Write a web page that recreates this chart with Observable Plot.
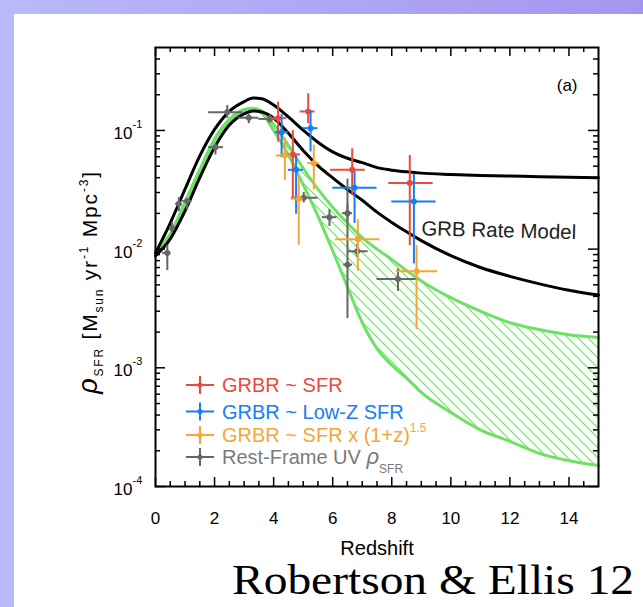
<!DOCTYPE html>
<html>
<head>
<meta charset="utf-8">
<script src="https://cdn.jsdelivr.net/npm/d3@7"></script>
<script src="https://cdn.jsdelivr.net/npm/@observablehq/plot@0.6"></script>
<style>
html,body{margin:0;padding:0;}
body{width:643px;height:607px;overflow:hidden;background:linear-gradient(to right,#b9b9fb,#a595f0);position:relative;font-family:"Liberation Sans",Arial,sans-serif;}
#panel{position:absolute;left:14px;top:14px;width:629px;height:593px;background:#fff;overflow:hidden;}
#chart{position:absolute;left:0;top:0;}
#caption{position:absolute;left:218px;top:545px;font-family:"Liberation Serif","Times New Roman",serif;font-size:42px;line-height:1;transform:scaleX(1.13);transform-origin:left top;white-space:nowrap;color:#000;}
</style>
</head>
<body>
<div id="panel"><div id="chart"></div><div id="caption">Robertson &amp; Ellis 12</div></div>
<script>
// ---- model curves (redshift grid and values) ----
const zGrid   = [0, 0.5, 1, 1.5, 2, 2.5, 3, 3.3, 3.6, 4, 4.5, 5, 5.5, 6, 6.5, 7, 7.5, 8, 8.5, 9, 10, 11, 12, 13, 14, 15];
const grbUpper = [0.0093, 0.0166, 0.032, 0.0610, 0.102, 0.145, 0.175, 0.188, 0.185, 0.164, 0.130, 0.1005, 0.0796, 0.066, 0.0583, 0.0535, 0.0486, 0.0463, 0.0448, 0.0437, 0.0426, 0.0418, 0.0413, 0.0408, 0.0404, 0.0400];
const grbLower = [0.0088, 0.0122, 0.0210, 0.0400, 0.0720, 0.111, 0.138, 0.146, 0.143, 0.127, 0.0946, 0.0678, 0.0506, 0.0398, 0.0318, 0.0258, 0.0205, 0.0168, 0.0140, 0.0118, 0.0088, 0.0070, 0.0059, 0.0051, 0.0045, 0.0041];
const uvUpper  = [0.0097, 0.0135, 0.0250, 0.047, 0.085, 0.124, 0.150, 0.154, 0.146, 0.112, 0.075, 0.048, 0.032, 0.0225, 0.0165, 0.0125, 0.0100, 0.0082, 0.0066, 0.0054, 0.0039, 0.0030, 0.0024, 0.0021, 0.0019, 0.0018];
const uvLower  = [0.0095, 0.0130, 0.0240, 0.045, 0.082, 0.120, 0.146, 0.150, 0.140, 0.100, 0.062, 0.035, 0.019, 0.0097, 0.0048, 0.0024, 0.00145, 0.00105, 0.00082, 0.00062, 0.00042, 0.00030, 0.00024, 0.00019, 0.000165, 0.00015];

// ---- data points: [z, rho, rhoLo, rhoHi, zLo, zHi] ----
const uvPts = [
  [0.40, 0.0093, 0.0066, 0.0108, 0.24, 0.52],
  [0.56, 0.0151, 0.0136, 0.0168, 0.50, 0.62],
  [0.79, 0.0241, 0.0207, 0.0272, 0.68, 0.90],
  [1.07, 0.0254, 0.0213, 0.0265, 0.92, 1.24],
  [2.03, 0.0723, 0.0620, 0.0775, 1.80, 2.30],
  [2.43, 0.1426, 0.126, 0.162, 1.80, 2.95],
  [3.16, 0.128, 0.114, 0.136, 2.80, 3.50],
  [3.87, 0.125, 0.115, 0.135, 3.50, 4.10],
  [5.02, 0.0271, 0.0245, 0.0300, 4.60, 5.50],
  [5.89, 0.0186, 0.0155, 0.0215, 5.65, 6.15],
  [6.50, 0.0201, 0.0170, 0.0240, 6.33, 6.67],
  [6.50, 0.0074, 0.0026, 0.0390, 6.37, 6.67],
  [6.83, 0.0096, 0.0085, 0.0110, 6.50, 7.20],
  [8.21, 0.0056, 0.0044, 0.0068, 7.50, 8.90]
];
const sfrPts = [
  [4.15, 0.127, 0.080, 0.173, 3.90, 4.45],
  [4.65, 0.0628, 0.0267, 0.100, 4.46, 4.91],
  [5.17, 0.1445, 0.114, 0.204, 4.90, 5.40],
  [6.66, 0.0466, 0.0283, 0.070, 5.93, 7.10],
  [8.61, 0.036, 0.0107, 0.0615, 7.90, 9.40]
];
const lowzPts = [
  [4.27, 0.0968, 0.059, 0.136, 4.05, 4.50],
  [4.76, 0.0466, 0.0197, 0.061, 4.50, 5.00],
  [5.25, 0.1045, 0.066, 0.147, 5.00, 5.50],
  [6.74, 0.0329, 0.0165, 0.045, 6.00, 7.50],
  [8.75, 0.0252, 0.0075, 0.043, 8.00, 9.50]
];
const evolPts = [
  [4.38, 0.0615, 0.038, 0.086, 4.10, 4.60],
  [4.85, 0.0266, 0.0108, 0.0407, 4.60, 5.00],
  [5.36, 0.053, 0.0315, 0.075, 5.15, 5.55],
  [6.85, 0.0121, 0.0065, 0.0177, 6.10, 7.60],
  [8.84, 0.0065, 0.0021, 0.0107, 8.15, 9.55]
];

// ---- ticks ----
const xMajor = [0, 2, 4, 6, 8, 10, 12, 14];
const xMinor = [0.5, 1, 1.5, 2.5, 3, 3.5, 4.5, 5, 5.5, 6.5, 7, 7.5, 8.5, 9, 9.5, 10.5, 11, 11.5, 12.5, 13, 13.5, 14.5];
const yMajor = [1e-4, 1e-3, 1e-2, 1e-1];
const yMinor = [2e-4,3e-4,4e-4,5e-4,6e-4,7e-4,8e-4,9e-4, 2e-3,3e-3,4e-3,5e-3,6e-3,7e-3,8e-3,9e-3, 2e-2,3e-2,4e-2,5e-2,6e-2,7e-2,8e-2,9e-2, 0.2,0.3,0.4];

const GREEN = "#6fe066", RED = "#ea4a3c", BLUE = "#1a7cf2", ORANGE = "#f6a635", GRAY = "#666666";

const curves = zGrid.map((z, i) => ({z, b1: grbUpper[i], b2: grbLower[i], g1: uvUpper[i], g2: uvLower[i]}));
const toRows = a => a.map(([z, v, lo, hi, zlo, zhi]) => ({z, v, lo, hi, zlo, zhi}));

function errMarks(pts, color) {
  const d = toRows(pts);
  return [
    Plot.ruleY(d, {y: "v", x1: "zlo", x2: "zhi", stroke: color, strokeWidth: 2}),
    Plot.ruleX(d, {x: "z", y1: "lo", y2: "hi", stroke: color, strokeWidth: 2}),
    Plot.dot(d, {x: "z", y: "v", r: 3, fill: color})
  ];
}

const FH = 439, FW = 443;
const chart = Plot.plot({
  width: 629, height: 550,
  marginLeft: 141, marginRight: 45, marginTop: 33, marginBottom: 78,
  style: {background: "transparent", fontFamily: "'Liberation Sans', Arial, sans-serif", overflow: "visible"},
  x: {domain: [0, 15], axis: null},
  y: {type: "log", domain: [1e-4, 0.5], axis: null},
  marks: [
    Plot.areaY(curves, {x: "z", y1: "g2", y2: "g1", fill: "url(#hatch)", curve: "monotone-x"}),
    Plot.lineY(curves, {x: "z", y: "g1", stroke: GREEN, strokeWidth: 3, curve: "monotone-x"}),
    Plot.lineY(curves, {x: "z", y: "g2", stroke: GREEN, strokeWidth: 3, curve: "monotone-x"}),
    Plot.lineY(curves, {x: "z", y: "b1", stroke: "#000", strokeWidth: 3, curve: "monotone-x"}),
    Plot.lineY(curves, {x: "z", y: "b2", stroke: "#000", strokeWidth: 3, curve: "monotone-x"}),
    ...errMarks(uvPts, GRAY),
    ...errMarks(sfrPts, RED),
    ...errMarks(lowzPts, BLUE),
    ...errMarks(evolPts, ORANGE),
    Plot.frame({stroke: "#000", strokeWidth: 2}),
    Plot.tickX(xMajor, {x: d => d, insetTop: FH - 9, stroke: "#000", strokeWidth: 1.5}),
    Plot.tickX(xMajor, {x: d => d, insetBottom: FH - 9, stroke: "#000", strokeWidth: 1.5}),
    Plot.tickX(xMinor, {x: d => d, insetTop: FH - 5, stroke: "#000", strokeWidth: 1.5}),
    Plot.tickX(xMinor, {x: d => d, insetBottom: FH - 5, stroke: "#000", strokeWidth: 1.5}),
    Plot.tickY(yMajor, {y: d => d, insetRight: FW - 10, stroke: "#000", strokeWidth: 1.5}),
    Plot.tickY(yMajor, {y: d => d, insetLeft: FW - 10, stroke: "#000", strokeWidth: 1.5}),
    Plot.tickY(yMinor, {y: d => d, insetRight: FW - 5, stroke: "#000", strokeWidth: 1.5}),
    Plot.tickY(yMinor, {y: d => d, insetLeft: FW - 5, stroke: "#000", strokeWidth: 1.5}),
    Plot.text(xMajor, {x: d => d, text: d => String(d), frameAnchor: "bottom", lineAnchor: "middle", dy: 32, fontSize: 17, fill: "#000"}),
    Plot.text(yMajor, {y: d => d, text: () => "10", frameAnchor: "left", textAnchor: "end", dx: -23, dy: 3, fontSize: 17, fill: "#000"}),
    Plot.text(yMajor, {y: d => d, text: d => String(Math.round(Math.log10(d))), frameAnchor: "left", textAnchor: "start", dx: -23, dy: -6, fontSize: 11, fill: "#000"}),
    Plot.text(["Redshift"], {x: () => 7.5, text: d => d, frameAnchor: "bottom", lineAnchor: "middle", dy: 62, fontSize: 20, fill: "#000"}),
    Plot.text(["(a)"], {text: d => d, frameAnchor: "top-right", lineAnchor: "middle", textAnchor: "end", dx: -21, dy: 38, fontSize: 17, fill: "#000"}),
    Plot.text(["GRB Rate Model"], {x: () => 9.0, y: () => 0.0149, text: d => d, textAnchor: "start", rotate: 1.5, fontSize: 20.5, fill: "#222"})
  ]
});
document.getElementById("chart").appendChild(chart);

const svg = d3.select(chart);
// hatch pattern
const defs = svg.insert("defs", ":first-child");
const pat = defs.append("pattern").attr("id", "hatch").attr("patternUnits", "userSpaceOnUse").attr("width", 10).attr("height", 10);
pat.append("path").attr("d", "M0,0L10,10M-1,9L1,11M9,-1L11,1").attr("stroke", GREEN).attr("stroke-width", 1.1).attr("fill", "none");

// y-axis title
const yl = svg.append("text").attr("transform", "translate(83,268) rotate(-90)").attr("text-anchor", "middle")
  .attr("font-size", 21).attr("fill", "#000").style("letter-spacing", "1.8px");
yl.append("tspan").attr("font-style", "italic").attr("font-size", 27).text("\u03c1");
yl.append("tspan").attr("font-size", 12).attr("dy", 6).text("SFR");
yl.append("tspan").attr("dy", -6).text(" [M");
yl.append("tspan").attr("font-size", 12).attr("dy", 6).text("sun");
yl.append("tspan").attr("dy", -6).text(" yr");
yl.append("tspan").attr("font-size", 12).attr("dy", -9).text("-1");
yl.append("tspan").attr("dy", 9).text(" Mpc");
yl.append("tspan").attr("font-size", 12).attr("dy", -9).text("-3");
yl.append("tspan").attr("dy", 9).text("]");

// legend
const legendRows = [
  {y: 371, color: RED, text: "GRBR ~ SFR"},
  {y: 397.5, color: BLUE, text: "GRBR ~ Low-Z SFR"},
  {y: 421, color: ORANGE, text: "GRBR ~ SFR x (1+z)", sup: "1.5"},
  {y: 443, color: GRAY, text: "Rest-Frame UV ", rho: true, tcolor: "#7a7a7a"}
];
const lg = svg.append("g").attr("text-anchor", "start");
for (const r of legendRows) {
  lg.append("line").attr("x1", 172).attr("x2", 200).attr("y1", r.y).attr("y2", r.y).attr("stroke", r.color).attr("stroke-width", 2);
  lg.append("line").attr("x1", 186).attr("x2", 186).attr("y1", r.y - 9).attr("y2", r.y + 9).attr("stroke", r.color).attr("stroke-width", 2);
  lg.append("circle").attr("cx", 186).attr("cy", r.y).attr("r", 2.5).attr("fill", r.color);
  const t = lg.append("text").attr("x", 208).attr("y", r.y + 7).attr("text-anchor", "start").attr("font-size", 20).attr("fill", r.tcolor || r.color);
  t.append("tspan").text(r.text);
  if (r.sup) t.append("tspan").attr("font-size", 12).attr("dy", -10).text(r.sup);
  if (r.rho) {
    t.append("tspan").attr("font-style", "italic").attr("font-size", 22).text("\u03c1");
    t.append("tspan").attr("font-size", 12).attr("dy", 9).text("SFR");
  }
}
</script>
</body>
</html>
